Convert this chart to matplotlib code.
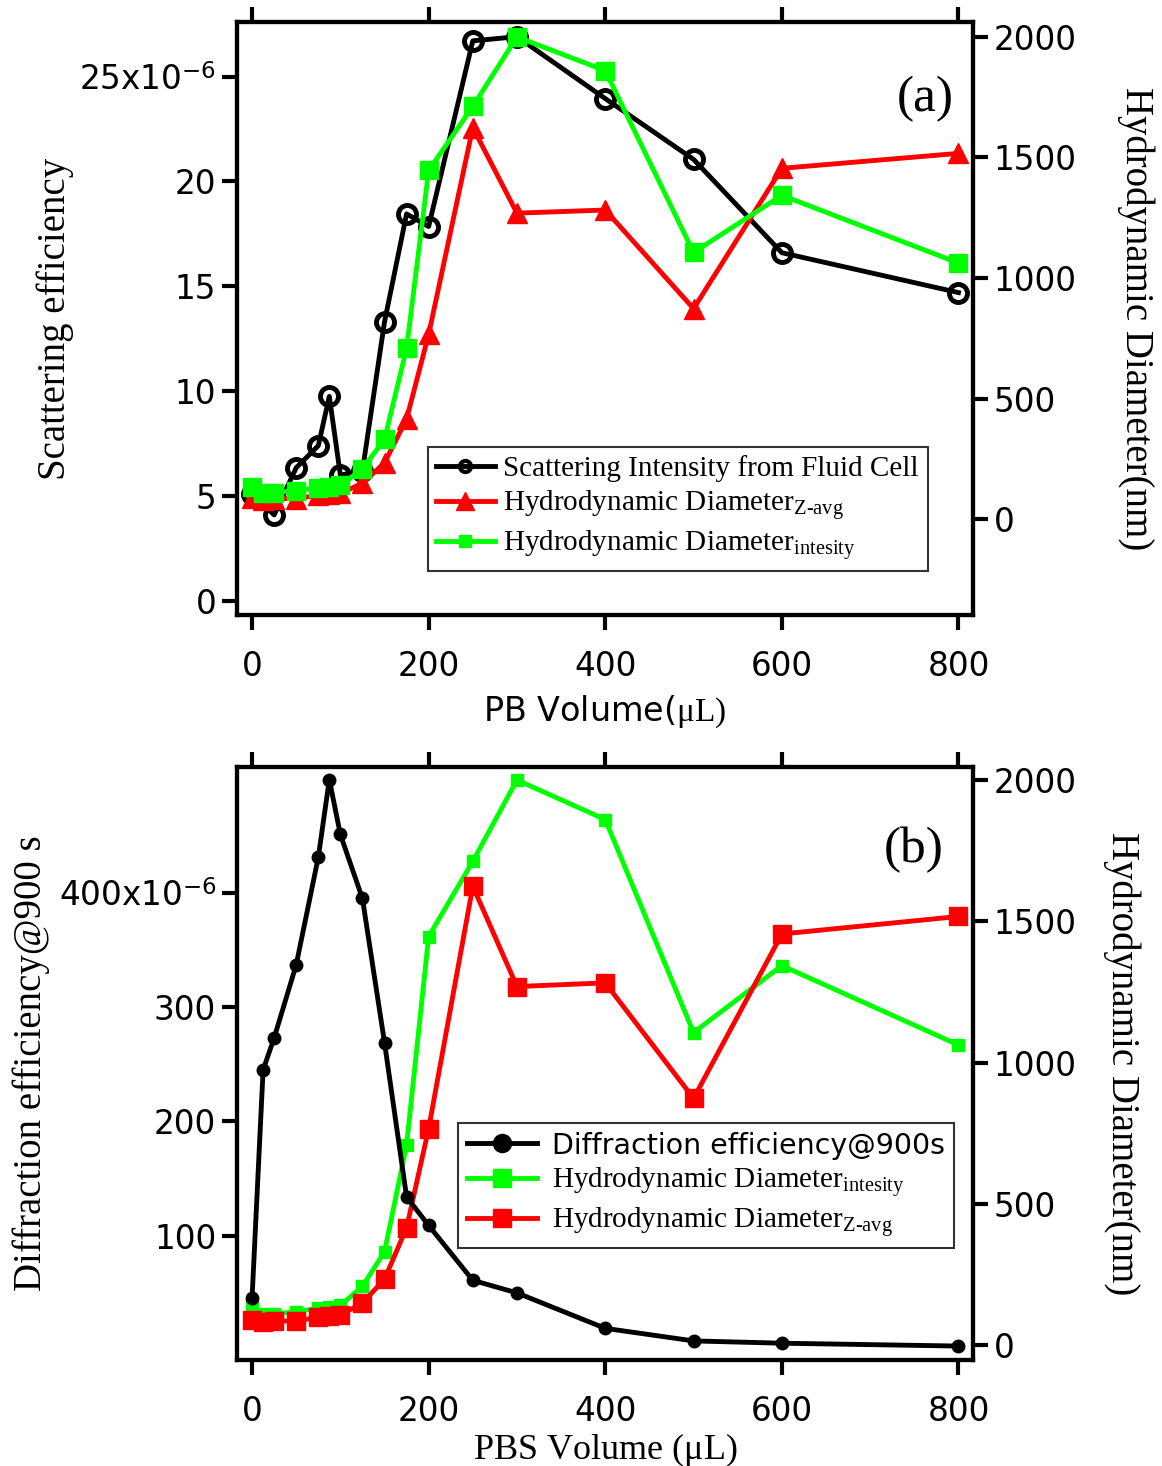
import matplotlib
matplotlib.use("Agg")
import matplotlib.pyplot as plt
from matplotlib.lines import Line2D

plt.rcParams["mathtext.fontset"] = "custom"
plt.rcParams["mathtext.rm"] = "Liberation Serif"
plt.rcParams["mathtext.it"] = "Liberation Serif:italic"
plt.rcParams["mathtext.sf"] = "DejaVu Sans"

SERIF = "Liberation Serif"

# scattering efficiency (units of 1e-6), panel (a)
vol_a = [0, 25, 50, 75, 87.5, 100, 125, 150, 175, 200, 250, 300, 400, 500, 600, 800]
scatter_a = [5.1, 4.1, 6.35, 7.4, 9.75, 6.0, 6.2, 13.3, 18.45, 17.85, 26.7, 26.9, 23.95, 21.05, 16.6, 14.7]

# hydrodynamic diameter (nm), shared by both panels
vol_h = [0, 12.5, 25, 50, 75, 87.5, 100, 125, 150, 175, 200, 250, 300, 400, 500, 600, 800]
dh_int = [135, 110, 110, 118, 130, 133, 140, 208, 330, 708, 1446, 1712, 2000, 1860, 1106, 1343, 1062]
dh_zavg = [88, 81, 85, 85, 99, 103, 106, 149, 233, 415, 766, 1624, 1269, 1282, 873, 1455, 1517]

# diffraction efficiency @900 s (units of 1e-6), panel (b)
vol_b = [0, 12.5, 25, 50, 75, 87.5, 100, 125, 150, 175, 200, 250, 300, 400, 500, 600, 800]
diff_eff = [45.5, 245, 273, 337, 431, 499, 451, 395, 269, 134, 109, 61, 50, 19, 8, 6, 3.5]

x_ticks = [0, 200, 400, 600, 800]
ya_ticks = [0, 5, 10, 15, 20, 25]
ya_labels = ["0", "5", "10", "15", "20", "25x10$^{\\mathsf{-6}}$"]
yb_ticks = [100, 200, 300, 400]
yb_labels = ["100", "200", "300", "400x10$^{\\mathsf{-6}}$"]
r_ticks = [0, 500, 1000, 1500, 2000]

fig = plt.figure(figsize=(11.62, 14.66), dpi=100)
ax1 = fig.add_axes([0.204, 0.5805, 0.633, 0.4045])
ax2 = fig.add_axes([0.204, 0.0723, 0.633, 0.4045])


def style(ax, tw):
    for a in (ax, tw):
        for s in a.spines.values():
            s.set_linewidth(3)
        a.tick_params(direction="out", width=3, length=11, labelsize=23.5)
    ax.tick_params(axis="x", top=True, labeltop=False, pad=14)
    ax.tick_params(axis="y", pad=4)
    tw.tick_params(axis="y", pad=4)
    ax.set_xticks(x_ticks)
    ax.set_xlim(-17, 816)
    tw.set_yticks(r_ticks)


# ---- panel (a)
tw1 = ax1.twinx()
style(ax1, tw1)
ax1.plot(vol_a, scatter_a, "-o", color="black", lw=3.5, ms=13, mfc="none", mew=3.5)
tw1.plot(vol_h, dh_zavg, "-^", color="red", lw=3.5, ms=14)
tw1.plot(vol_h, dh_int, "-s", color="#00ff00", lw=3.5, ms=13)
ax1.set_ylim(-0.67, 27.6)
tw1.set_ylim(-398, 2062)
ax1.set_yticks(ya_ticks)
ax1.set_yticklabels(ya_labels)
ax1.set_ylabel("Scattering efficiency", family=SERIF, fontsize=28, labelpad=4)
tw1.set_ylabel("Hydrodynamic Diameter(nm)", family=SERIF, fontsize=28,
               rotation=270, labelpad=56)
ax1.set_xlabel("PB Volume($\\mathrm{\\mu L)}$", fontsize=24, labelpad=8)
ax1.text(0.975, 0.87, "(a)", transform=ax1.transAxes, family=SERIF, fontsize=37,
         ha="right", va="center")
h_a = [
    Line2D([], [], color="black", lw=3.5, marker="o", ms=8, mfc="none", mew=3),
    Line2D([], [], color="red", lw=3.5, marker="^", ms=13),
    Line2D([], [], color="#00ff00", lw=3.5, marker="s", ms=8),
]
l_a = ["Scattering Intensity from Fluid Cell",
       "Hydrodynamic Diameter$_{\\mathrm{Z\\text{-}avg}}$",
       "Hydrodynamic Diameter$_{\\mathrm{intesity}}$"]
leg = tw1.legend(h_a, l_a, loc="upper left", bbox_to_anchor=(0.259, 0.284),
                 prop={"family": SERIF, "size": 21}, frameon=True, fancybox=False,
                 edgecolor="black", handlelength=2.0, handletextpad=0.3,
                 labelspacing=0.2, borderpad=0.3, borderaxespad=0)
leg.get_frame().set_linewidth(1.5)

# ---- panel (b)
tw2 = ax2.twinx()
style(ax2, tw2)
ax2.set_zorder(tw2.get_zorder() + 1)
ax2.patch.set_visible(False)
tw2.plot(vol_h, dh_int, "-s", color="#00ff00", lw=3.5, ms=8)
tw2.plot(vol_h, dh_zavg, "-s", color="red", lw=3.5, ms=13)
ax2.plot(vol_b, diff_eff, "-o", color="black", lw=3.5, ms=9)
ax2.set_ylim(-8.7, 510)
tw2.set_ylim(-53, 2046)
ax2.set_yticks(yb_ticks)
ax2.set_yticklabels(yb_labels)
ax2.set_ylabel("Diffraction efficiency@900 s", family=SERIF, fontsize=28, labelpad=6)
tw2.set_ylabel("Hydrodynamic Diameter(nm)", family=SERIF, fontsize=28,
               rotation=270, labelpad=46)
ax2.set_xlabel("PBS Volume ($\\mathrm{\\mu}$L)", family=SERIF, fontsize=26, labelpad=2)
ax2.text(0.96, 0.86, "(b)", transform=ax2.transAxes, family=SERIF, fontsize=37,
         ha="right", va="center")
h_b = [
    Line2D([], [], color="black", lw=3.5, marker="o", ms=13),
    Line2D([], [], color="#00ff00", lw=3.5, marker="s", ms=13),
    Line2D([], [], color="red", lw=3.5, marker="s", ms=13),
]
l_b = ["Diffraction efficiency@900s",
       "Hydrodynamic Diameter$_{\\mathrm{intesity}}$",
       "Hydrodynamic Diameter$_{\\mathrm{Z\\text{-}avg}}$"]
leg2 = ax2.legend(h_b, l_b, loc="upper left", bbox_to_anchor=(0.301, 0.40),
                  prop={"family": SERIF, "size": 21}, frameon=True, fancybox=False,
                  edgecolor="black", handlelength=2.4, handletextpad=0.5,
                  labelspacing=0.2, borderpad=0.3, borderaxespad=0)
leg2.get_frame().set_linewidth(1.5)
leg2.get_texts()[0].set_family("DejaVu Sans")
leg2.get_texts()[0].set_fontsize(20.5)

fig.savefig("out.png", dpi=100)
